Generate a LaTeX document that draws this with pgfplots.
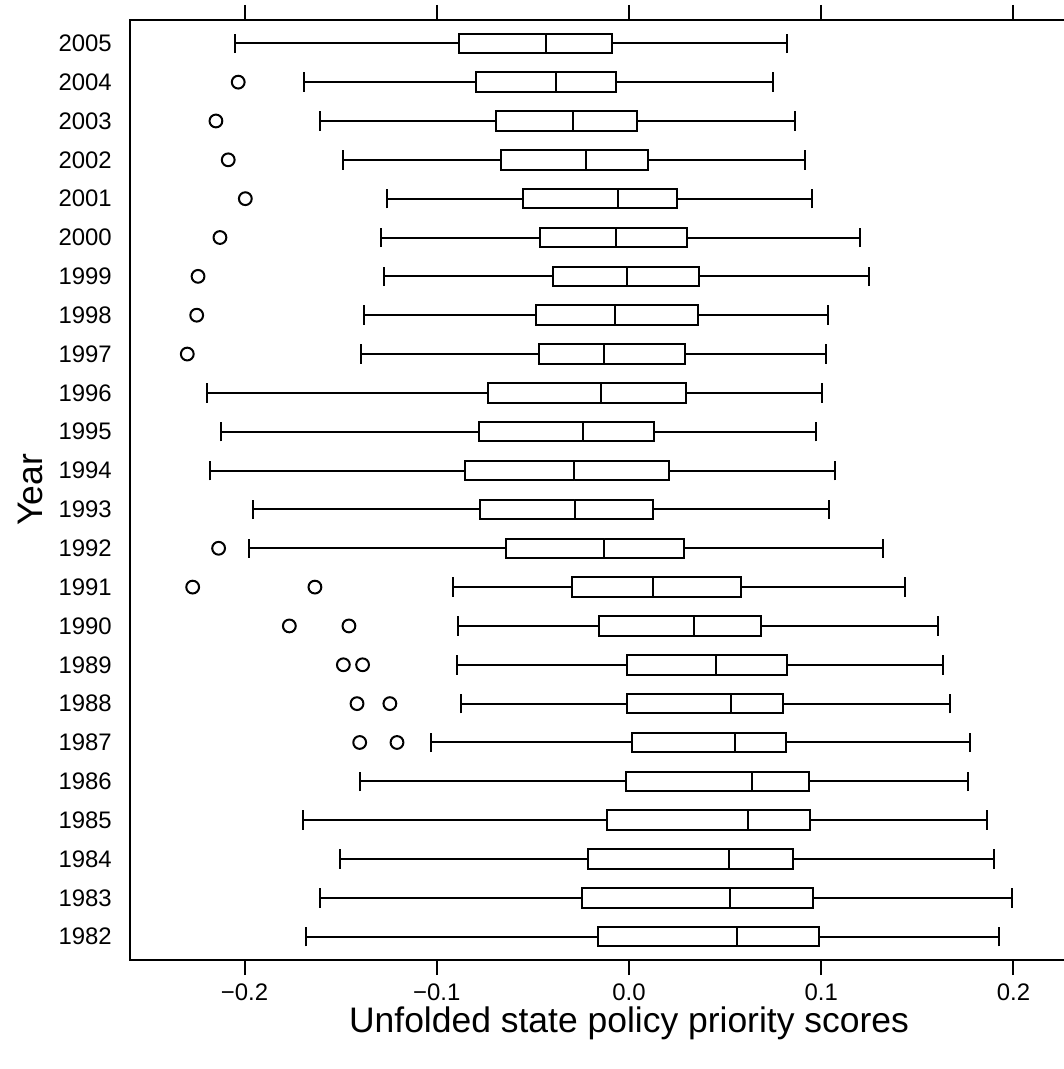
\documentclass[border=0pt]{standalone}
\usepackage{fontspec}
\setmainfont{Liberation Sans}
\usepackage{pgfplots}
\usepgfplotslibrary{statistics}
\pgfplotsset{compat=1.18}
\newcommand{\bx}[6]{\addplot[black, line width=1bp, solid, fill=white,
  boxplot prepared={draw position=#1, lower whisker=#2, lower quartile=#3,
  median=#4, upper quartile=#5, upper whisker=#6}] coordinates {};}
\begin{document}
\begin{tikzpicture}
\begin{axis}[
  at={(0,0)}, anchor=south west,
  scale only axis, width=499bp, height=470bp,
  xmin=-0.2596, xmax=0.2596, ymin=0.4, ymax=24.6,
  axis line style={line width=1bp},
  xtick={-0.2,-0.1,0,0.1,0.2},
  xticklabels={−0.2,−0.1,0.0,0.1,0.2},
  xtick pos=both, xticklabel pos=bottom,
  ytick={1,...,24},
  yticklabels={1982,1983,1984,1985,1986,1987,1988,1989,1990,1991,1992,1993,1994,1995,1996,1997,1998,1999,2000,2001,2002,2003,2004,2005},
  ytick pos=left,
  tick align=outside,
  major tick length=7.5bp,
  xtick style={line width=1bp, black},
  ytick style={draw=none},
  tick label style={font=\fontsize{12}{14}\selectfont},
  xticklabel style={yshift=-1bp},
  yticklabel style={inner xsep=1.4bp},
  xlabel={Unfolded state policy priority scores},
  ylabel={Year},
  label style={font=\fontsize{17.8}{20}\selectfont},
  xlabel style={at={(axis description cs:0.5,-0.0766)}, anchor=base},
  ylabel style={at={(axis description cs:-0.1002,0.5)}, anchor=center},
  boxplot/draw direction=x,
  boxplot/box extend=0.5,
  boxplot/whisker extend=0.5,
]
\bx{24}{-0.2050}{-0.0883}{-0.0433}{-0.0087}{0.0820}
\bx{23}{-0.1691}{-0.0798}{-0.0380}{-0.0066}{0.0749}
\bx{22}{-0.1606}{-0.0690}{-0.0293}{0.0040}{0.0865}
\bx{21}{-0.1486}{-0.0664}{-0.0225}{0.0097}{0.0917}
\bx{20}{-0.1258}{-0.0553}{-0.0059}{0.0248}{0.0952}
\bx{19}{-0.1289}{-0.0465}{-0.0068}{0.0302}{0.1204}
\bx{18}{-0.1275}{-0.0395}{-0.0009}{0.0363}{0.1249}
\bx{17}{-0.1379}{-0.0484}{-0.0073}{0.0361}{0.1035}
\bx{16}{-0.1394}{-0.0470}{-0.0132}{0.0291}{0.1027}
\bx{15}{-0.2196}{-0.0732}{-0.0147}{0.0297}{0.1006}
\bx{14}{-0.2124}{-0.0780}{-0.0241}{0.0132}{0.0971}
\bx{13}{-0.2182}{-0.0853}{-0.0286}{0.0210}{0.1073}
\bx{12}{-0.1955}{-0.0775}{-0.0281}{0.0127}{0.1039}
\bx{11}{-0.1979}{-0.0642}{-0.0128}{0.0288}{0.1320}
\bx{10}{-0.0914}{-0.0295}{0.0123}{0.0581}{0.1436}
\bx{9}{-0.0888}{-0.0158}{0.0338}{0.0687}{0.1606}
\bx{8}{-0.0895}{-0.0010}{0.0453}{0.0822}{0.1635}
\bx{7}{-0.0874}{-0.0012}{0.0532}{0.0800}{0.1669}
\bx{6}{-0.1030}{0.0016}{0.0552}{0.0818}{0.1774}
\bx{5}{-0.1401}{-0.0017}{0.0640}{0.0937}{0.1764}
\bx{4}{-0.1696}{-0.0116}{0.0621}{0.0940}{0.1861}
\bx{3}{-0.1502}{-0.0213}{0.0520}{0.0855}{0.1901}
\bx{2}{-0.1608}{-0.0246}{0.0525}{0.0957}{0.1994}
\bx{1}{-0.1682}{-0.0163}{0.0562}{0.0987}{0.1927}
\addplot[only marks, mark=o, mark size=3.2bp, black, line width=1bp] coordinates {
  (-0.2033,23) (-0.2149,22) (-0.2085,21) (-0.1996,20) (-0.2128,19)
  (-0.2242,18) (-0.2249,17) (-0.2298,16) (-0.2135,11)
  (-0.2270,10) (-0.1634,10) (-0.1767,9) (-0.1457,9)
  (-0.1486,8) (-0.1386,8) (-0.1415,7) (-0.1244,7)
  (-0.1401,6) (-0.1207,6)
};
\end{axis}
\pgfresetboundingbox
\path[use as bounding box] (-65bp,-54.5bp) rectangle (467bp,480bp);
\end{tikzpicture}
\end{document}
